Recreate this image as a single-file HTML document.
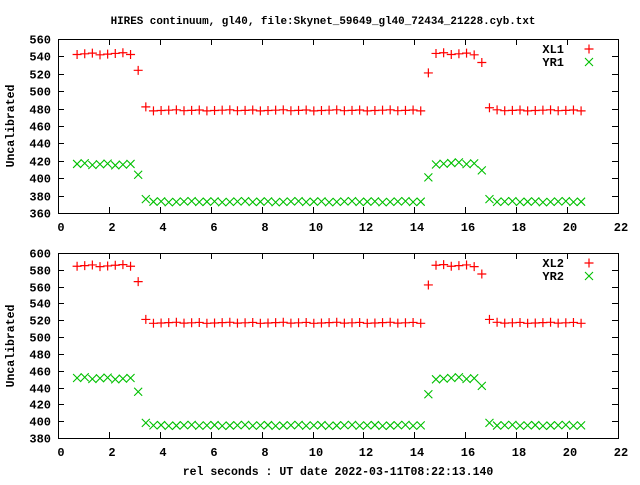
<!DOCTYPE html>
<html><head><meta charset="utf-8"><style>
body{margin:0;background:#fff}
svg text{font-family:"Liberation Mono","DejaVu Sans Mono",monospace;font-weight:bold;font-size:11.5px;fill:#000}
</style></head><body>
<svg id="s" width="640" height="480" xmlns="http://www.w3.org/2000/svg"></svg>
<script>
var s=document.getElementById('s'),h='';
var L=58,R=618;
function X(v){return L+(R-L)*v/22;}
h+='<text x="323" y="24" text-anchor="middle" style="font-size:10.9px">HIRES continuum, gl40, file:Skynet_59649_gl40_72434_21228.cyb.txt</text>';
h+='<text x="0" y="0" text-anchor="middle" transform="translate(14,126) rotate(-90)">Uncalibrated</text>';
h+='<text x="0" y="0" text-anchor="middle" transform="translate(14,346) rotate(-90)">Uncalibrated</text>';
h+='<text x="338" y="475" text-anchor="middle">rel seconds : UT date 2022-03-11T08:22:13.140</text>';
function panel(T,B,y0,y1,step,names,lv1,lv2){
  function Y(v){return B-(B-T)*(v-y0)/(y1-y0);}
  h+='<rect x="'+L+'.5" y="'+T+'.5" width="'+(R-L)+'" height="'+(B-T)+'" fill="none" stroke="#000" stroke-width="1"/>';
  for(var v=y0;v<=y1;v+=step){var y=Math.round(Y(v))+.5;
    h+='<path d="M'+L+' '+y+'h6M'+R+' '+y+'h-6" stroke="#000"/>';
    h+='<text x="51" y="'+(y+4)+'" text-anchor="end" style="font-size:12px">'+v+'</text>';}
  for(var t=0;t<=22;t+=2){var x=Math.round(X(t))+.5;
    h+='<path d="M'+x+' '+B+'v-6M'+x+' '+T+'v6" stroke="#000"/>';
    h+='<text x="'+(x+2.5)+'" y="'+(B+18)+'" text-anchor="middle" style="font-size:12px">'+t+'</text>';}
  function series(lv,plus,col,seed){
    for(var i=0;i<80;i++){
      var t=0.75+0.3*i; if(t>20.6)break;
      var v,j=((i*37+seed)%7-3)*0.4;
      if(i<8)v=lv[0]+j;else if(i==8)v=lv[1];else if(i==9)v=lv[2];
      else if(t<14.4)v=lv[3]+j*0.5;else if(i==46)v=lv[4];
      else if(t<16.5)v=lv[5]+j;else if(i==53)v=lv[6];else if(i==54)v=lv[7];else v=lv[8]+j*0.5;
      mark(X(t),Y(v),plus,col);}
  }
  function mark(x,y,plus,col){
    if(plus)h+='<path d="M'+(x-4.5)+' '+y+'h9M'+x+' '+(y-4.5)+'v9" stroke="'+col+'" stroke-width="1.2"/>';
    else h+='<path d="M'+(x-4)+' '+(y-4)+'l8 8M'+(x-4)+' '+(y+4)+'l8 -8" stroke="'+col+'" stroke-width="1.1"/>';
  }
  series(lv1,true,'#ff0000',1);series(lv2,false,'#00c000',4);
  h+='<text x="564" y="'+(T+14)+'" text-anchor="end" style="font-size:12px">'+names[0]+'</text>';
  h+='<text x="564" y="'+(T+27)+'" text-anchor="end" style="font-size:12px">'+names[1]+'</text>';
  mark(589,T+10,true,'#ff0000');mark(589,T+23,false,'#00c000');
}
panel(39,213,360,560,20,['XL1','YR1'],[543,524,482,478,521,543,533,481,478],[416,404,376,373,401,417,409,376,373]);
panel(253,438,380,600,20,['XL2','YR2'],[585,566,521,517,562,585,575,521,517],[451,435,398,395,432,451,442,398,395]);
s.innerHTML=h;
</script>
</body></html>
